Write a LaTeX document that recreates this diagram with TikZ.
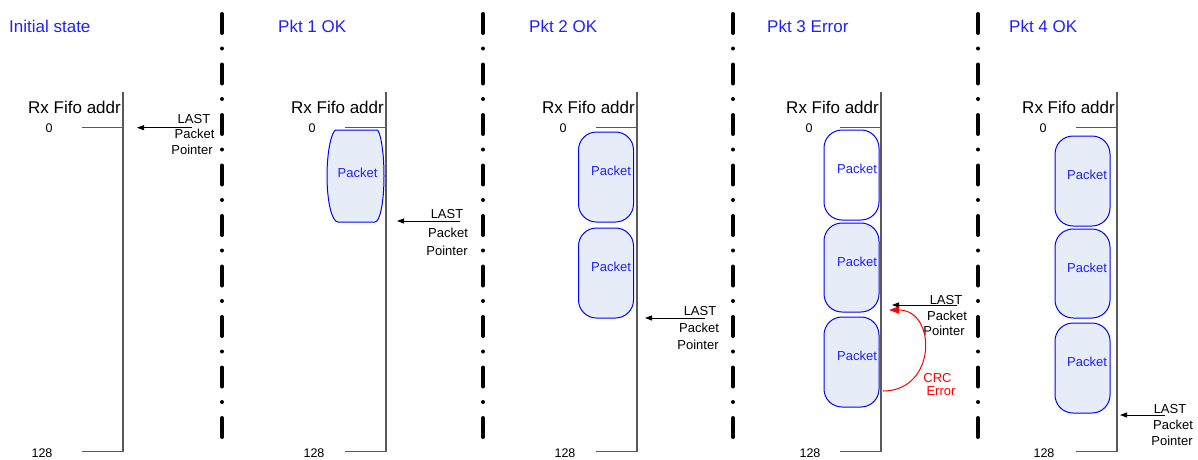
\documentclass[tikz,border=0pt]{standalone}
\usepackage{fontspec}
\setmainfont{Liberation Sans}
\usetikzlibrary{arrows.meta}
\definecolor{pktblue}{HTML}{1F1FFF}
\definecolor{pktfill}{HTML}{E6EDF8}
\definecolor{axisgray}{HTML}{5A5A5A}
\tikzset{
 title/.style={text=pktblue, font=\fontsize{17}{20}\selectfont, anchor=base west, inner sep=0},
 rxlabel/.style={font=\fontsize{17}{20}\selectfont, anchor=base east, inner sep=0},
 addr/.style={font=\fontsize{12.5}{15}\selectfont, anchor=base, inner sep=0},
 axisline/.style={draw=axisgray, line width=1.2pt},
 sepline/.style={line width=4pt, line cap=round, dash pattern=on 19pt off 15.5pt on 0pt off 16pt},
 packet/.style={draw=blue, fill=pktfill, line width=1pt, rounded corners=18pt, minimum width=55pt, minimum height=90pt, inner sep=0},
 pkttext/.style={text=pktblue, font=\fontsize{13}{15}\selectfont, anchor=base, inner sep=0},
 ptrtext/.style={font=\fontsize{13}{15}\selectfont, anchor=base, inner sep=0},
 ptr/.style={draw=black, line width=0.9pt, -{Triangle[length=7pt,width=5pt]}},
 crctext/.style={text=red, font=\fontsize{13}{15}\selectfont, anchor=base, inner sep=0},
}
\begin{document}
\begin{tikzpicture}[x=1pt,y=-1pt]
\useasboundingbox (0,0) rectangle (1198,459);

% separators
\foreach \sx in {222,483,733,978}{
  \draw[sepline] (\sx,14) -- (\sx,441);
}

% titles
\node[title] (t1) at (9,32) {Initial state};
\node[title] (t2) at (278,32) {Pkt 1 OK};
\node[title] (t3) at (529,32) {Pkt 2 OK};
\node[title] (t4) at (767,32) {Pkt 3 Error};
\node[title] (t5) at (1009,32) {Pkt 4 OK};

% axes
\foreach \ax/\zx/\ex [count=\i] in {123/49/42, 386/312/314, 637/563/565, 881/809/810, 1117/1043/1044}{
  \draw[axisline] (\ax-41,127.7) -- (\ax,127.7);
  \draw[axisline] (\ax,92) -- (\ax,451.7) -- (\ax-41,451.7);
  \node[rxlabel] (rx\i) at (\ax-2,113) {Rx Fifo addr};
  \node[addr] (zero\i) at (\zx,132) {0};
  \node[addr] (end\i) at (\ex,457) {128};
}

% column 2 packet (barrel)
\node[minimum width=55pt, minimum height=92pt, inner sep=0] (p2a) at (355.5,176) {};
\draw[draw=blue, fill=pktfill, line width=1pt]
  (336,130) -- (377,130)
  .. controls (380,130) and (384,150) .. (384,176)
  .. controls (384,202) and (380,222) .. (375,222)
  -- (338,222)
  .. controls (332,222) and (327,202) .. (327,176)
  .. controls (327,150) and (332,130) .. (336,130) -- cycle;
\node[pkttext] (p2at) at (357.5,177) {Packet};

% column 3 packets
\node[packet] (p3a) at (606,177) {};
\node[packet] (p3b) at (606,273) {};
\node[pkttext] (p3at) at (611,175) {Packet};
\node[pkttext] (p3bt) at (611,271) {Packet};

% column 4 packets
\node[packet, fill=white, minimum height=90pt] (p4a) at (851.5,175) {};
\node[packet, minimum height=89pt] (p4b) at (851.5,267.5) {};
\node[packet] (p4c) at (851.5,362) {};
\node[pkttext] (p4at) at (857,173) {Packet};
\node[pkttext] (p4bt) at (857,266) {Packet};
\node[pkttext] (p4ct) at (857,360) {Packet};

% column 5 packets
\node[packet] (p5a) at (1082.5,181) {};
\node[packet, minimum height=89pt] (p5b) at (1082.5,273.5) {};
\node[packet] (p5c) at (1082.5,368) {};
\node[pkttext] (p5at) at (1087,179) {Packet};
\node[pkttext] (p5bt) at (1087,272) {Packet};
\node[pkttext] (p5ct) at (1087,366) {Packet};

% pointer labels
\node[ptrtext] (l1a) at (194,123) {LAST};
\node[ptrtext] (l1b) at (194.5,138) {Packet};
\node[ptrtext] (l1c) at (192,154) {Pointer};
\node[ptrtext] (l2a) at (447,218) {LAST};
\node[ptrtext] (l2b) at (448,237) {Packet};
\node[ptrtext] (l2c) at (447,255) {Pointer};
\node[ptrtext] (l3a) at (700,315) {LAST};
\node[ptrtext] (l3b) at (699,332) {Packet};
\node[ptrtext] (l3c) at (698,349) {Pointer};
\node[ptrtext] (l4a) at (946,304) {LAST};
\node[ptrtext] (l4b) at (947,320) {Packet};
\node[ptrtext] (l4c) at (944,335) {Pointer};
\node[ptrtext] (l5a) at (1170,413) {LAST};
\node[ptrtext] (l5b) at (1173,429) {Packet};
\node[ptrtext] (l5c) at (1172,445) {Pointer};

% pointer arrows
\coordinate (a1s) at (192,127.7); \coordinate (a1e) at (137,127.7);
\coordinate (a2s) at (460,221);   \coordinate (a2e) at (397,221);
\coordinate (a3s) at (705,318);   \coordinate (a3e) at (645,318);
\coordinate (a4s) at (957,305);   \coordinate (a4e) at (892,305);
\coordinate (a5s) at (1165,415);  \coordinate (a5e) at (1120,415);
\draw[ptr] (a1s) -- (a1e);
\draw[ptr] (a2s) -- (a2e);
\draw[ptr] (a3s) -- (a3e);
\draw[ptr] (a4s) -- (a4e);
\draw[ptr] (a5s) -- (a5e);

% CRC error arc
\coordinate (crcA) at (883,391);
\coordinate (crcB) at (889,310);
\draw[red, line width=1pt, -{Triangle[length=10pt,width=7pt]}]
  (crcA) .. controls (937,391) and (937,310) .. (crcB);
\node[crctext] (crc1) at (937.5,382) {CRC};
\node[crctext] (crc2) at (941,395) {Error};
\end{tikzpicture}
\end{document}
